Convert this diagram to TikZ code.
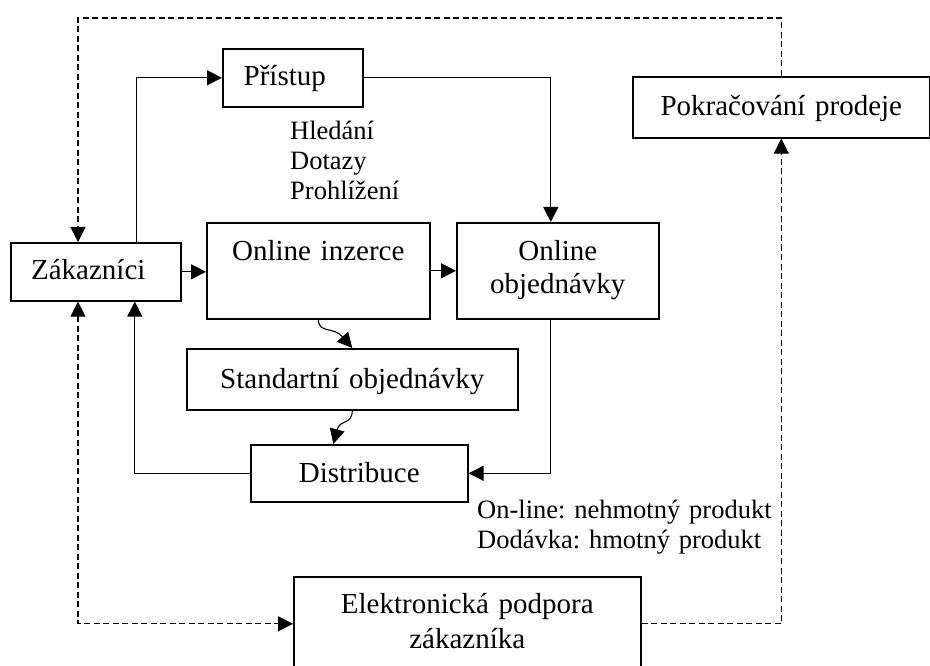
\documentclass[tikz,border=0pt]{standalone}
\usepackage{fontspec}
\setmainfont{Liberation Serif}
\usetikzlibrary{arrows.meta}
\frenchspacing

\begin{document}
\begin{tikzpicture}[x=1pt, y=-1pt,
    >={Triangle[length=15pt,width=15pt]},
    box/.style={draw, line width=1.6pt, inner sep=0pt, align=center, anchor=north west,
      font=\fontsize{29}{31}\selectfont},
    note/.style={inner sep=0pt, align=left, anchor=base west, text width=340pt,
      font=\fontsize{26.5}{30}\selectfont},
    conn/.style={->, line width=1.1pt},
    dashconn/.style={line width=1.1pt, dash pattern=on 6pt off 3.5pt}]
  \useasboundingbox (0,0) rectangle (930,666);
  \clip (0,0) rectangle (930,666);

  \node[box, text width=170pt, text height=37pt, text depth=21pt] (zak) at (10,242) {\hspace*{-15pt}Zákazníci};
  \node[box, text width=140pt, text height=37pt, text depth=21pt] (prist) at (222,48) {\hspace*{-16pt}Přístup};
  \node[box, text width=223pt, text height=38pt, text depth=58pt] (inz) at (206,222) {Online inzerce};
  \node[box, text width=202pt, text height=38pt, text depth=58pt] (objed) at (456,222) {Online\\[2pt]objednávky};
  \node[box, text width=331pt, text height=40pt, text depth=21pt] (std) at (186,348) {Standartní objednávky};
  \node[box, text width=217pt, text height=38pt, text depth=19pt] (distr) at (250,444) {Distribuce};
  \node[box, text width=347pt, text height=37pt, text depth=57pt] (elek) at (293,576) {Elektronická podpora\\[4pt]zákazníka};
  \node[box, text width=297pt, text height=39pt, text depth=22pt] (pokr) at (632,76) {Pokračování prodeje};

  \node[note] (hled) at (290,140) {Hledání\\Dotazy\\Prohlížení};
  \node[note] (dod) at (477,518) {On-line: nehmotný produkt\\Dodávka: hmotný produkt};

  \coordinate (horniL) at (78,18);

  \draw[conn] ([xshift=41pt]zak.north) |- (prist.west);
  \draw[conn] (prist.east) -| ([xshift=-7pt]objed.north);
  \draw[conn] (zak.east) -- (zak.east -| inz.west);
  \draw[conn] (inz.east) -- (objed.west);
  \draw[conn] ([xshift=-7pt]objed.south) |- (distr.east);
  \draw[conn] (distr.west) -| ([xshift=39pt]zak.south);
  \draw[conn] (inz.south) .. controls (319,334) and (333,326) .. (std.north);
  \draw[conn] (std.south) .. controls (352,425) and (340,419) .. ([xshift=-26pt]distr.north);

  \draw[dashconn, ->] (pokr.north) |- (horniL) -- (horniL |- zak.north);
  \draw[dashconn, <->] (horniL |- zak.south) |- (elek.west);
  \draw[dashconn, ->] (elek.east) -| (pokr.south);
\end{tikzpicture}
\end{document}
